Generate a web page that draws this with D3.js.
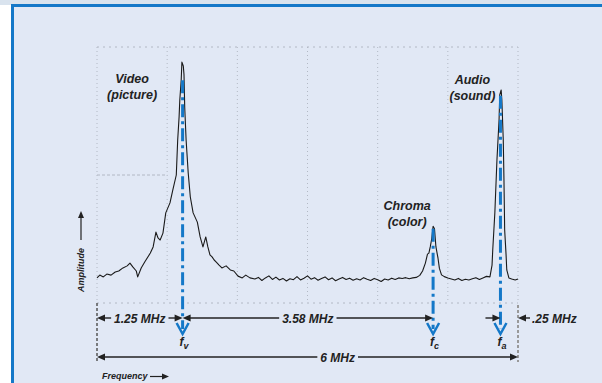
<!DOCTYPE html>
<html><head><meta charset="utf-8">
<script src="https://cdn.jsdelivr.net/npm/d3@7"></script>
<style>html,body{margin:0;padding:0;background:#fff;}svg{display:block;}
text{font-family:"Liberation Sans",Arial,sans-serif;font-weight:bold;font-style:italic;fill:#222;}</style>
</head><body><svg id="c" width="602" height="383"></svg>
<script>
// Spectrum data: frequency (MHz) and amplitude (arbitrary units)
const freq = [0.00,0.04,0.09,0.14,0.20,0.26,0.31,0.37,0.43,0.47,0.51,0.56,0.58,0.63,0.68,0.76,0.80,0.84,0.87,0.90,0.94,0.98,1.04,1.08,1.13,1.15,1.17,1.18,1.20,1.21,1.23,1.24,1.25,1.27,1.30,1.33,1.37,1.43,1.47,1.51,1.55,1.58,1.61,1.64,1.67,1.70,1.74,1.78,1.84,1.90,1.95,2.01,2.07,2.12,2.18,
2.25,2.30,2.35,2.40,2.45,2.50,2.55,2.60,2.65,2.70,2.75,2.80,2.85,2.90,2.95,3.00,3.05,3.10,3.15,3.20,3.25,3.30,3.35,3.40,3.45,3.50,3.55,3.60,3.65,3.70,3.75,3.80,3.85,3.90,3.95,4.00,4.05,4.10,4.15,4.20,4.25,4.30,4.35,4.40,4.45,4.50,4.55,
4.60,4.64,4.68,4.71,4.73,4.75,4.77,4.79,4.81,4.83,4.86,4.88,4.91,4.95,5.00,5.05,5.10,5.15,5.20,5.25,5.30,5.35,5.40,5.45,5.50,5.55,
5.60,5.63,5.64,5.67,5.70,5.73,5.74,5.76,5.77,5.79,5.80,5.81,5.83,5.84,5.87,5.91,5.96,6.00];
const amplitude = [9.8,10.9,10.2,11.3,10.9,12.1,12.5,13.7,14.5,15.6,14.1,12.5,10.2,13.7,16.0,19.5,21.9,27.7,25.4,24.6,27.3,35.2,39.1,44.1,50.0,63.7,72.7,79.3,87.1,94.1,92.6,89.1,76.6,63.7,50.8,41.4,35.2,31.6,25.8,21.9,25.8,21.9,18.8,18.0,16.8,16.0,14.8,13.7,14.5,12.9,12.5,10.5,9.8,10.9,9.8,
9.4,10.0,8.8,9.8,10.6,9.2,10.1,9.0,9.6,8.6,9.5,9.1,10.3,9.0,9.7,10.6,9.3,9.9,8.9,9.6,10.2,9.1,9.8,8.7,9.4,10.0,9.2,9.7,8.9,9.5,9.0,9.9,9.3,8.8,9.6,9.1,8.4,9.4,9.0,9.7,9.2,9.8,9.6,9.9,9.5,9.8,10.0,
10.8,12.5,15.6,19.1,19.5,22.0,25.0,30.0,29.0,22.0,17.5,13.5,11.0,10.3,9.8,9.4,9.0,9.6,8.8,9.3,9.0,9.5,9.9,9.2,9.8,10.4,
10.2,14.8,20.7,35.2,55.9,71.5,81.3,83.2,79.3,63.7,48.0,28.5,18.8,12.9,9.8,9.4,9.0,9.4];

// Carrier markers
const markerNames = ["v","c","a"];
const markerFreq = [1.22, 4.79, 5.75];
const markerTop = [87, 29, 81];

// Peak labels
const labelLines = [["Video","(picture)"],["Chroma","(color)"],["Audio","(sound)"]];
const labelFreq = [0.50, 4.42, 5.35];
const labelAmp = [86, 36.5, 85.5];

// Dimension labels
const dimLabels = ["1.25 MHz","3.58 MHz",".25 MHz","6 MHz"];
const gridFreq = [0,1,2,3,4,5,6];
const gridAmp = [0,100];

const svg = d3.select("#c");
const x = d3.scaleLinear().domain([0,6]).range([97,518]);
const y = d3.scaleLinear().domain([0,100]).range([303,47]);
const BLUE = "#1478c8";

// background & frame
svg.append("rect").attr("x",0).attr("y",0).attr("width",602).attr("height",5).attr("fill","#d9e3ee");
svg.append("rect").attr("x",11).attr("y",4).attr("width",602).attr("height",400).attr("fill",BLUE);
svg.append("rect").attr("x",14).attr("y",7).attr("width",602).attr("height",400).attr("fill","#e1e8f5");

// grid
const g = svg.append("g").attr("stroke","#7d828c").attr("stroke-width",1).attr("fill","none").attr("opacity",0.45);
gridFreq.forEach(f=>{
  g.append("line").attr("x1",x(f)).attr("x2",x(f)).attr("y1",y(100)).attr("y2",y(0)).attr("stroke-dasharray","1,3");
});
gridAmp.forEach(a=>{
  g.append("line").attr("x1",x(0)).attr("x2",x(6)).attr("y1",y(a)).attr("y2",y(a)).attr("stroke-dasharray","2,4");
});
g.append("line").attr("x1",x(0)).attr("x2",x(1)).attr("y1",y(50)).attr("y2",y(50)).attr("stroke-dasharray","3,2");

// extension lines
svg.append("line").attr("x1",x(0)).attr("x2",x(0)).attr("y1",y(0)).attr("y2",361).attr("stroke","#555").attr("stroke-width",1.5).attr("stroke-dasharray","3,2");
svg.append("line").attr("x1",x(6)).attr("x2",x(6)).attr("y1",y(0)+2).attr("y2",362).attr("stroke","#999").attr("stroke-width",2).attr("stroke-dasharray","3,2");

// spectrum
const pts = freq.map((f,i)=>[f,amplitude[i]]);
svg.append("path").datum(pts).attr("fill","none").attr("stroke","#1a1a1a").attr("stroke-width",1.1)
  .attr("stroke-linejoin","round")
  .attr("d",d3.line().x(d=>x(d[0])).y(d=>y(d[1])));

// markers
markerFreq.forEach((f,i)=>{
  const cx = x(f);
  svg.append("line").attr("x1",cx).attr("x2",cx).attr("y1",y(markerTop[i])).attr("y2",329)
    .attr("stroke",BLUE).attr("stroke-width",3).attr("stroke-dasharray","13,4,3,4");
  svg.append("path").attr("d",`M${cx-6},323 L${cx},334 L${cx+6},323`).attr("fill","none")
    .attr("stroke",BLUE).attr("stroke-width",2.5);
  const t = svg.append("text").attr("x",cx-3).attr("y",346).attr("font-size",12);
  t.append("tspan").text("f");
  t.append("tspan").attr("dy",3).attr("font-size",9).text(markerNames[i]);
});

// peak labels
labelLines.forEach((ls,i)=>{
  ls.forEach((s,j)=>{
    svg.append("text").attr("x",x(labelFreq[i])).attr("y",y(labelAmp[i])+j*16).attr("text-anchor","middle")
      .attr("font-size",12.5).text(s);
  });
});

// arrowhead helper
function head(px,py,dir){
  svg.append("path").attr("d",`M${px},${py} L${px-dir*8},${py-3.5} L${px-dir*8},${py+3.5} Z`).attr("fill","#222");
}
function seg(x1,x2,py){
  svg.append("line").attr("x1",x1).attr("x2",x2).attr("y1",py).attr("y2",py).attr("stroke","#222").attr("stroke-width",1.4);
}
function dim(f1,f2,py,label,tc){
  const a = x(f1), b = x(f2);
  head(a,py,-1); head(b,py,1);
  const t = svg.append("text").attr("x",tc).attr("y",py+5).attr("text-anchor","middle").attr("font-size",12).text(label);
  const w = t.node().getComputedTextLength();
  seg(a+4,tc-w/2-3,py); seg(tc+w/2+3,b-4,py);
}
const r1 = 318, r2 = 357;
dim(0, markerFreq[0], r1, dimLabels[0], (x(0)+x(markerFreq[0]))/2);
dim(markerFreq[0], markerFreq[1], r1, dimLabels[1], (x(markerFreq[0])+x(markerFreq[1]))/2);
// .25 MHz
head(x(markerFreq[2]),r1,1); seg(x(markerFreq[2])-15,x(markerFreq[2])-4,r1);
head(x(6),r1,-1); seg(x(6)+4,x(6)+12,r1);
svg.append("text").attr("x",x(6)+14).attr("y",r1+5).attr("font-size",12).text(dimLabels[2]);
dim(0, 6, r2, dimLabels[3], x(3.43));

// axis titles
svg.append("text").attr("x",102).attr("y",379).attr("font-size",9).text("Frequency");
svg.append("line").attr("x1",150).attr("x2",163).attr("y1",376.5).attr("y2",376.5).attr("stroke","#222").attr("stroke-width",1.2);
svg.append("path").attr("d","M169,376.5 L162,373.5 L162,379.5 Z").attr("fill","#222");
svg.append("text").attr("transform","translate(84,292) rotate(-90)").attr("font-size",9).text("Amplitude");
svg.append("line").attr("x1",81).attr("x2",81).attr("y1",240).attr("y2",217).attr("stroke","#222").attr("stroke-width",1.2);
svg.append("path").attr("d","M81,211 L78,218 L84,218 Z").attr("fill","#222");
</script></body></html>
